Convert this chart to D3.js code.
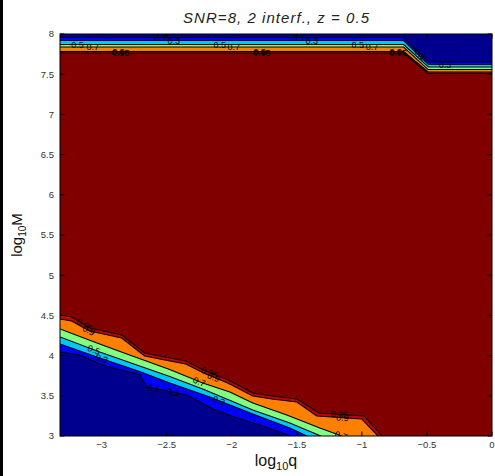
<!DOCTYPE html>
<html>
<head>
<meta charset="utf-8">
<script src="https://cdn.jsdelivr.net/npm/d3@7/dist/d3.min.js"></script>
<style>
  html, body { margin: 0; padding: 0; background: #fff; }
  svg { display: block; font-family: "Liberation Sans", Arial, Helvetica, sans-serif; }
</style>
</head>
<body>
<svg id="chart" width="495" height="476"></svg>
<script>
// Contour levels of the detection probability surface
const levels = [0.1, 0.3, 0.5, 0.7, 0.9, 0.95];
// Fill for values below each level (last entry: above the highest level)
const bandColors = ["#00008f", "#0000ff", "#00c8ff", "#80ff80", "#ff8000", "#c80000", "#800000"];

const xDomain = [-3.32, 0];
const yDomain = [3, 8];
const xTicks = [-3, -2.5, -2, -1.5, -1, -0.5, 0];
const xTickLabels = ["\u22123", "\u22122.5", "\u22122", "\u22121.5", "\u22121", "\u22120.5", "0"];
const yTicks = [3, 3.5, 4, 4.5, 5, 5.5, 6, 6.5, 7, 7.5, 8];
const yTickLabels = ["3", "3.5", "4", "4.5", "5", "5.5", "6", "6.5", "7", "7.5", "8"];

// Low-mass contours [log10 q, log10 M]; values fall below the level beneath each line
const low10 = [[-3.32, 4.045], [-3.169, 4.007], [-3.015, 3.896], [-2.885, 3.833], [-2.708, 3.764], [-2.654, 3.609], [-2.531, 3.572], [-2.346, 3.510], [-2.146, 3.336], [-1.962, 3.224], [-1.785, 3.137], [-1.631, 3.050], [-1.554, 3.0]];
const low30 = [[-3.32, 4.144], [-3.015, 3.970], [-2.708, 3.801], [-2.477, 3.659], [-2.169, 3.485], [-1.838, 3.274], [-1.554, 3.100], [-1.423, 3.0]];
const low50 = [[-3.32, 4.231], [-3.015, 4.045], [-2.708, 3.871], [-2.477, 3.739], [-2.223, 3.585], [-1.838, 3.323], [-1.554, 3.162], [-1.315, 3.0]];
const low70 = [[-3.32, 4.331], [-3.015, 4.144], [-2.785, 4.007], [-2.477, 3.826], [-2.223, 3.659], [-2.015, 3.547], [-1.838, 3.410], [-1.577, 3.261], [-1.323, 3.100], [-1.154, 3.0]];
const low90 = [[-3.32, 4.455], [-3.231, 4.430], [-3.092, 4.306], [-2.846, 4.219], [-2.669, 3.995], [-2.515, 3.945], [-2.354, 3.896], [-2.208, 3.776], [-2.031, 3.659], [-1.838, 3.498], [-1.692, 3.460], [-1.5, 3.423], [-1.346, 3.249], [-1.0, 3.211], [-0.877, 3.0]];
const low95 = [[-3.32, 4.505], [-3.231, 4.480], [-3.092, 4.343], [-2.846, 4.256], [-2.669, 4.032], [-2.515, 3.983], [-2.354, 3.933], [-2.208, 3.813], [-2.031, 3.701], [-1.838, 3.535], [-1.692, 3.498], [-1.5, 3.460], [-1.331, 3.286], [-0.985, 3.249], [-0.846, 3.0]];

// High-mass contours; values fall below the level above each line
const high10 = [[-3.32, 7.956], [-0.68, 7.956], [-0.49, 7.652], [0, 7.652]];
const high30 = [[-3.32, 7.919], [-0.68, 7.919], [-0.49, 7.621], [0, 7.621]];
const high50 = [[-3.32, 7.869], [-0.68, 7.869], [-0.49, 7.590], [0, 7.590]];
const high70 = [[-3.32, 7.838], [-0.68, 7.838], [-0.49, 7.558], [0, 7.558]];
const high90 = [[-3.32, 7.782], [-0.68, 7.782], [-0.49, 7.527], [0, 7.527]];
const high95 = [[-3.32, 7.764], [-0.68, 7.764], [-0.49, 7.509], [0, 7.509]];

const lowContours = [low10, low30, low50, low70, low90, low95];
const highContours = [high10, high30, high50, high70, high90, high95];

// Inline contour labels: which contour, and where along it (log10 q)
const labelGroup = ["high", "high", "high", "high", "high", "high",
                    "high", "high", "high", "high", "high", "high",
                    "high", "high", "high", "high", "high", "high",
                    "low", "low", "low", "low", "low",
                    "low", "low", "low", "low", "low",
                    "low", "low", "low"];
const labelLevel = [0.1, 0.3, 0.5, 0.7, 0.9, 0.95,
                    0.1, 0.3, 0.5, 0.7, 0.9, 0.95,
                    0.5, 0.7, 0.9, 0.95, 0.1, 0.3,
                    0.95, 0.9, 0.5, 0.3, 0.1,
                    0.95, 0.9, 0.7, 0.3, 0.1,
                    0.95, 0.9, 0.7];
const labelX = [-2.546, -2.446, -3.185, -3.069, -2.870, -2.854,
                -1.485, -1.385, -2.092, -1.985, -1.785, -1.769,
                -1.031, -0.923, -0.740, -0.723, -0.55, -0.362,
                -3.13, -3.10, -3.06, -3.0, -2.60,
                -2.17, -2.14, -2.25, -2.10, -2.45,
                -1.17, -1.15, -1.16];

const W = 495, H = 476;
const margin = { left: 60, right: 3, top: 34, bottom: 40 };
const x = d3.scaleLinear().domain(xDomain).range([margin.left, W - margin.right]);
const y = d3.scaleLinear().domain(yDomain).range([H - margin.bottom, margin.top]);

const svg = d3.select("#chart");

// dark strip along the left edge of the figure window
svg.append("rect").attr("x", 0).attr("y", 0).attr("width", 3).attr("height", H).attr("fill", "#000");

svg.append("clipPath").attr("id", "plotClip")
  .append("rect")
  .attr("x", x(xDomain[0])).attr("y", y(yDomain[1]))
  .attr("width", x(xDomain[1]) - x(xDomain[0]))
  .attr("height", y(yDomain[0]) - y(yDomain[1]));

const plot = svg.append("g").attr("clip-path", "url(#plotClip)");

// everything above the top level
plot.append("rect")
  .attr("x", x(xDomain[0])).attr("y", y(yDomain[1]))
  .attr("width", x(xDomain[1]) - x(xDomain[0]))
  .attr("height", y(yDomain[0]) - y(yDomain[1]))
  .attr("fill", bandColors[bandColors.length - 1]);

const polyPath = d3.line().x(d => x(d[0])).y(d => y(d[1])).curve(d3.curveLinearClosed);
const linePath = d3.line().x(d => x(d[0])).y(d => y(d[1]));

// fill bands from the highest level downward so lower bands sit on top
for (let i = levels.length - 1; i >= 0; i--) {
  const lo = lowContours[i];
  const loPoly = lo.concat([[xDomain[0], yDomain[0]]]);
  plot.append("path").attr("d", polyPath(loPoly)).attr("fill", bandColors[i]);
  const hi = highContours[i];
  const hiPoly = hi.concat([[xDomain[1], yDomain[1]], [xDomain[0], yDomain[1]]]);
  plot.append("path").attr("d", polyPath(hiPoly)).attr("fill", bandColors[i]);
}

// contour lines
lowContours.concat(highContours).forEach(c => {
  plot.append("path").attr("d", linePath(c))
    .attr("fill", "none").attr("stroke", "#000").attr("stroke-width", 1.1)
    .attr("stroke-linejoin", "round");
});

// position and direction along a contour at a given log10 q
function along(c, xv) {
  for (let k = 0; k < c.length - 1; k++) {
    const a = c[k], b = c[k + 1];
    if (xv >= a[0] && xv <= b[0]) {
      const t = (b[0] - a[0]) === 0 ? 0 : (xv - a[0]) / (b[0] - a[0]);
      const yv = a[1] + t * (b[1] - a[1]);
      const ang = Math.atan2(y(b[1]) - y(a[1]), x(b[0]) - x(a[0])) * 180 / Math.PI;
      return { px: x(xv), py: y(yv), ang };
    }
  }
  return null;
}

labelLevel.forEach((lv, i) => {
  const idx = levels.indexOf(lv);
  const c = labelGroup[i] === "low" ? lowContours[idx] : highContours[idx];
  const p = along(c, labelX[i]);
  if (!p) return;
  plot.append("text")
    .attr("transform", `translate(${p.px},${p.py}) rotate(${p.ang})`)
    .attr("text-anchor", "middle")
    .attr("dy", "0.35em")
    .attr("font-size", 9)
    .attr("fill", "#000")
    .text(String(lv));
});

// axes box
const x0 = x(xDomain[0]), x1 = x(xDomain[1]), yT = y(yDomain[1]), yB = y(yDomain[0]);
svg.append("rect").attr("x", x0).attr("y", yT).attr("width", x1 - x0).attr("height", yB - yT)
  .attr("fill", "none").attr("stroke", "#000").attr("stroke-width", 1);

const tl = 4.5;
const axes = svg.append("g").attr("stroke", "#000").attr("stroke-width", 1);
xTicks.forEach(t => {
  axes.append("line").attr("x1", x(t)).attr("x2", x(t)).attr("y1", yB).attr("y2", yB - tl);
  axes.append("line").attr("x1", x(t)).attr("x2", x(t)).attr("y1", yT).attr("y2", yT + tl);
});
yTicks.forEach(t => {
  axes.append("line").attr("x1", x0).attr("x2", x0 + tl).attr("y1", y(t)).attr("y2", y(t));
  axes.append("line").attr("x1", x1).attr("x2", x1 - tl).attr("y1", y(t)).attr("y2", y(t));
});

const tickFont = 9.5;
xTicks.forEach((t, i) => {
  svg.append("text").attr("x", x(t)).attr("y", yB + 12)
    .attr("text-anchor", "middle").attr("font-size", tickFont).attr("fill", "#333")
    .text(xTickLabels[i]);
});
yTicks.forEach((t, i) => {
  svg.append("text").attr("x", x0 - 6).attr("y", y(t)).attr("dy", "0.35em")
    .attr("text-anchor", "end").attr("font-size", tickFont).attr("fill", "#333")
    .text(yTickLabels[i]);
});

// title
svg.append("text").attr("x", (x0 + x1) / 2).attr("y", 23)
  .attr("text-anchor", "middle").attr("font-size", 15).attr("font-style", "italic")
  .attr("fill", "#222")
  .attr("textLength", 186).attr("lengthAdjust", "spacing")
  .text("SNR=8, 2 interf., z = 0.5");

// axis labels with subscripts
const xl = svg.append("text").attr("x", (x0 + x1) / 2).attr("y", 466)
  .attr("text-anchor", "middle").attr("font-size", 16).attr("fill", "#111");
xl.append("tspan").text("log");
xl.append("tspan").attr("font-size", 11).attr("dy", 4).text("10");
xl.append("tspan").attr("dy", -4).text("q");

const yl = svg.append("text")
  .attr("transform", `translate(22,${(yT + yB) / 2}) rotate(-90)`)
  .attr("text-anchor", "middle").attr("font-size", 15).attr("fill", "#111");
yl.append("tspan").text("log");
yl.append("tspan").attr("font-size", 10).attr("dy", 4).text("10");
yl.append("tspan").attr("dy", -4).text("M");
</script>
</body>
</html>
